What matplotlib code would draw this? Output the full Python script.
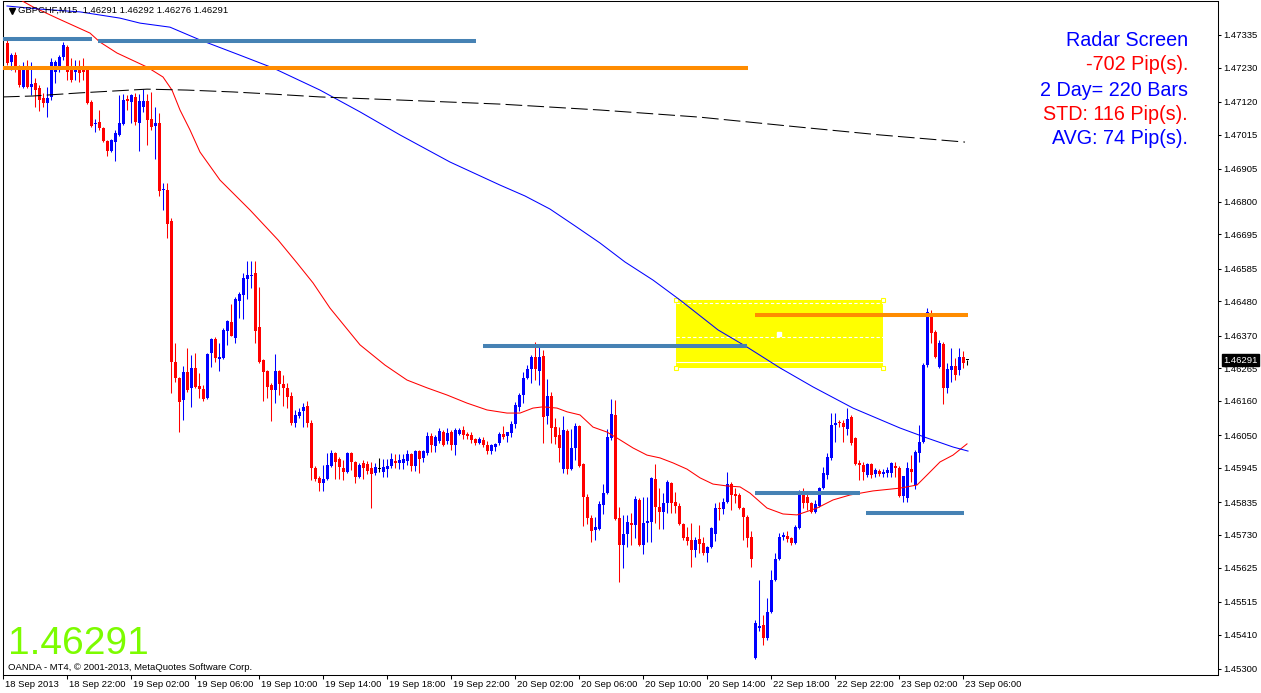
"""
GBPCHF M15 chart (MT4 style) - candles, three moving averages, drawn levels
and the "Radar Screen" info block.
"""

import numpy as np
import matplotlib.pyplot as plt
from matplotlib.patches import Rectangle
import matplotlib.transforms as mtransforms

plt.rcParams['font.family'] = ['Liberation Sans', 'DejaVu Sans']

# 1. OHLC data, one value per M15 bar (bar 0 = first bar on screen)
opens = [
    1.47309, 1.47248, 1.47270, 1.47229, 1.47168, 1.47229, 1.47168, 1.47181, 1.47164, 1.47132,
    1.47116, 1.47136, 1.47216, 1.47232, 1.47264, 1.47296, 1.47229, 1.47216, 1.47229, 1.47222,
    1.47229, 1.47120, 1.47049, 1.47055, 1.47036, 1.46994, 1.46962, 1.46991, 1.47014, 1.47049,
    1.47129, 1.47120, 1.47136, 1.47052, 1.47104, 1.47123, 1.47065, 1.47042, 1.47052, 1.46837,
    1.46837, 1.46738, 1.46285, 1.46234, 1.46163, 1.46253, 1.46202, 1.46266, 1.46208, 1.46198,
    1.46169, 1.46314, 1.46359, 1.46295, 1.46298, 1.46385, 1.46413, 1.46362, 1.46481, 1.46500,
    1.46551, 1.46561, 1.46571, 1.46397, 1.46291, 1.46256, 1.46211, 1.46195, 1.46256, 1.46214,
    1.46202, 1.46176, 1.46089, 1.46112, 1.46128, 1.46144, 1.46089, 1.45945, 1.45913, 1.45897,
    1.45909, 1.45951, 1.45993, 1.45974, 1.45945, 1.45932, 1.45993, 1.45964, 1.45916, 1.45961,
    1.45958, 1.45945, 1.45929, 1.45942, 1.45932, 1.45942, 1.45951, 1.45967, 1.45961, 1.45961,
    1.45967, 1.45990, 1.45951, 1.45999, 1.45977, 1.45993, 1.46047, 1.46015, 1.46031, 1.46060,
    1.46031, 1.46060, 1.46019, 1.46054, 1.46067, 1.46054, 1.46051, 1.46038, 1.46025, 1.46035,
    1.46019, 1.45999, 1.46012, 1.46025, 1.46054, 1.46047, 1.46057, 1.46086, 1.46141, 1.46179,
    1.46234, 1.46263, 1.46301, 1.46256, 1.46304, 1.46112, 1.46176, 1.46076, 1.46051, 1.45942,
    1.46064, 1.45942, 1.46009, 1.46080, 1.45958, 1.45852, 1.45784, 1.45746, 1.45749, 1.45826,
    1.45865, 1.46041, 1.46115, 1.45784, 1.45698, 1.45733, 1.45768, 1.45762, 1.45842, 1.45698,
    1.45768, 1.45771, 1.45909, 1.45820, 1.45803, 1.45832, 1.45897, 1.45836, 1.45823, 1.45765,
    1.45723, 1.45714, 1.45682, 1.45717, 1.45704, 1.45672, 1.45691, 1.45733, 1.45816, 1.45813,
    1.45836, 1.45893, 1.45861, 1.45858, 1.45816, 1.45787, 1.45723, 1.45335, 1.45431, 1.45441,
    1.45399, 1.45482, 1.45585, 1.45653, 1.45723, 1.45726, 1.45720, 1.45704, 1.45752, 1.45868,
    1.45852, 1.45832, 1.45803, 1.45823, 1.45880, 1.45922, 1.45977, 1.46083, 1.46092, 1.46089,
    1.46070, 1.46108, 1.46041, 1.45961, 1.45954, 1.45922, 1.45958, 1.45926, 1.45935, 1.45926,
    1.45929, 1.45929, 1.45951, 1.45945, 1.45855, 1.45849, 1.45942, 1.45890, 1.45993, 1.46028,
    1.46275, 1.46442, 1.46381, 1.46269, 1.46343, 1.46202, 1.46259, 1.46272, 1.46259, 1.46301,
    1.46291,
]
highs = [
    1.47322, 1.47277, 1.47280, 1.47238, 1.47248, 1.47254, 1.47248, 1.47197, 1.47174, 1.47148,
    1.47168, 1.47261, 1.47254, 1.47270, 1.47312, 1.47303, 1.47261, 1.47254, 1.47254, 1.47261,
    1.47235, 1.47126, 1.47065, 1.47094, 1.47039, 1.46998, 1.47001, 1.47030, 1.47142, 1.47145,
    1.47142, 1.47145, 1.47148, 1.47145, 1.47161, 1.47145, 1.47152, 1.47104, 1.47084, 1.46860,
    1.46860, 1.46747, 1.46346, 1.46237, 1.46272, 1.46330, 1.46307, 1.46314, 1.46250, 1.46211,
    1.46314, 1.46362, 1.46365, 1.46346, 1.46394, 1.46420, 1.46471, 1.46494, 1.46510, 1.46571,
    1.46609, 1.46609, 1.46609, 1.46526, 1.46295, 1.46259, 1.46218, 1.46311, 1.46259, 1.46243,
    1.46218, 1.46189, 1.46131, 1.46137, 1.46153, 1.46160, 1.46099, 1.45951, 1.45919, 1.45954,
    1.45993, 1.46003, 1.45996, 1.45980, 1.45970, 1.45996, 1.45996, 1.45967, 1.45961, 1.45970,
    1.45967, 1.45964, 1.45961, 1.45977, 1.45974, 1.45974, 1.45993, 1.45990, 1.45990, 1.45990,
    1.46003, 1.45993, 1.46003, 1.46003, 1.46003, 1.46060, 1.46057, 1.46051, 1.46073, 1.46067,
    1.46073, 1.46067, 1.46073, 1.46073, 1.46080, 1.46060, 1.46060, 1.46041, 1.46044, 1.46044,
    1.46031, 1.46022, 1.46025, 1.46060, 1.46080, 1.46060, 1.46096, 1.46157, 1.46186, 1.46253,
    1.46275, 1.46307, 1.46349, 1.46336, 1.46324, 1.46230, 1.46189, 1.46105, 1.46076, 1.46112,
    1.46070, 1.46070, 1.46089, 1.46083, 1.45961, 1.45861, 1.45794, 1.45787, 1.45839, 1.45893,
    1.46070, 1.46166, 1.46163, 1.45820, 1.45794, 1.45794, 1.45800, 1.45855, 1.45848, 1.45852,
    1.45852, 1.45916, 1.45958, 1.45880, 1.45865, 1.45906, 1.45900, 1.45868, 1.45832, 1.45768,
    1.45755, 1.45768, 1.45723, 1.45762, 1.45723, 1.45694, 1.45755, 1.45832, 1.45836, 1.45848,
    1.45932, 1.45900, 1.45880, 1.45865, 1.45820, 1.45794, 1.45743, 1.45457, 1.45585, 1.45473,
    1.45527, 1.45617, 1.45672, 1.45736, 1.45739, 1.45743, 1.45723, 1.45762, 1.45874, 1.45880,
    1.45865, 1.45836, 1.45842, 1.45884, 1.45948, 1.45993, 1.46121, 1.46121, 1.46099, 1.46099,
    1.46137, 1.46115, 1.46044, 1.45970, 1.45964, 1.45961, 1.45961, 1.45945, 1.45942, 1.45942,
    1.45948, 1.45964, 1.45964, 1.45951, 1.45919, 1.45964, 1.45986, 1.46003, 1.46083, 1.46282,
    1.46458, 1.46452, 1.46388, 1.46356, 1.46349, 1.46282, 1.46330, 1.46298, 1.46330, 1.46320,
    1.46292,
]
lows = [
    1.47238, 1.47222, 1.47216, 1.47168, 1.47164, 1.47164, 1.47142, 1.47104, 1.47091, 1.47104,
    1.47071, 1.47126, 1.47181, 1.47216, 1.47254, 1.47190, 1.47184, 1.47190, 1.47184, 1.47190,
    1.47113, 1.47039, 1.47023, 1.47030, 1.46991, 1.46946, 1.46959, 1.46930, 1.47010, 1.47046,
    1.47094, 1.47052, 1.47046, 1.46962, 1.47087, 1.46982, 1.47030, 1.46937, 1.46818, 1.46773,
    1.46683, 1.46186, 1.46221, 1.46060, 1.46099, 1.46189, 1.46141, 1.46202, 1.46169, 1.46160,
    1.46166, 1.46269, 1.46285, 1.46256, 1.46295, 1.46340, 1.46368, 1.46346, 1.46426, 1.46423,
    1.46487, 1.46522, 1.46346, 1.46282, 1.46160, 1.46169, 1.46096, 1.46153, 1.46179, 1.46144,
    1.46137, 1.46083, 1.46076, 1.46105, 1.46076, 1.46076, 1.45906, 1.45903, 1.45871, 1.45871,
    1.45906, 1.45948, 1.45909, 1.45909, 1.45906, 1.45929, 1.45938, 1.45897, 1.45913, 1.45909,
    1.45926, 1.45816, 1.45922, 1.45932, 1.45916, 1.45916, 1.45945, 1.45945, 1.45942, 1.45942,
    1.45954, 1.45935, 1.45935, 1.45929, 1.45964, 1.45986, 1.45996, 1.45996, 1.46025, 1.46015,
    1.46022, 1.46003, 1.45986, 1.46051, 1.46038, 1.46038, 1.46025, 1.46019, 1.46022, 1.46012,
    1.45990, 1.45990, 1.45999, 1.46019, 1.46038, 1.46028, 1.46044, 1.46073, 1.46128, 1.46153,
    1.46230, 1.46218, 1.46227, 1.46211, 1.46025, 1.46086, 1.46025, 1.46022, 1.45964, 1.45929,
    1.45926, 1.45938, 1.45970, 1.45948, 1.45759, 1.45765, 1.45707, 1.45714, 1.45746, 1.45797,
    1.45861, 1.46035, 1.45778, 1.45579, 1.45624, 1.45691, 1.45698, 1.45720, 1.45694, 1.45669,
    1.45707, 1.45707, 1.45768, 1.45749, 1.45749, 1.45800, 1.45800, 1.45800, 1.45762, 1.45714,
    1.45698, 1.45627, 1.45659, 1.45672, 1.45665, 1.45643, 1.45688, 1.45710, 1.45778, 1.45797,
    1.45832, 1.45810, 1.45832, 1.45813, 1.45714, 1.45691, 1.45627, 1.45332, 1.45422, 1.45376,
    1.45393, 1.45479, 1.45582, 1.45649, 1.45714, 1.45707, 1.45698, 1.45701, 1.45749, 1.45816,
    1.45810, 1.45800, 1.45800, 1.45820, 1.45877, 1.45909, 1.45970, 1.46028, 1.46076, 1.46028,
    1.46051, 1.46019, 1.45954, 1.45906, 1.45906, 1.45916, 1.45913, 1.45916, 1.45919, 1.45916,
    1.45916, 1.45916, 1.45916, 1.45852, 1.45836, 1.45836, 1.45900, 1.45877, 1.45964, 1.46025,
    1.46269, 1.46346, 1.46298, 1.46266, 1.46150, 1.46186, 1.46221, 1.46227, 1.46243, 1.46266,
    1.46276,
]
closes = [
    1.47245, 1.47270, 1.47232, 1.47174, 1.47222, 1.47168, 1.47177, 1.47158, 1.47126, 1.47116,
    1.47132, 1.47248, 1.47248, 1.47264, 1.47303, 1.47216, 1.47190, 1.47222, 1.47213, 1.47216,
    1.47116, 1.47042, 1.47052, 1.47036, 1.46994, 1.46962, 1.46998, 1.47020, 1.47052, 1.47126,
    1.47123, 1.47142, 1.47055, 1.47123, 1.47123, 1.47062, 1.47039, 1.47052, 1.46834, 1.46840,
    1.46728, 1.46285, 1.46234, 1.46157, 1.46253, 1.46195, 1.46266, 1.46205, 1.46198, 1.46166,
    1.46311, 1.46359, 1.46298, 1.46301, 1.46388, 1.46417, 1.46368, 1.46487, 1.46503, 1.46555,
    1.46564, 1.46564, 1.46385, 1.46285, 1.46253, 1.46205, 1.46195, 1.46256, 1.46214, 1.46202,
    1.46173, 1.46089, 1.46115, 1.46125, 1.46141, 1.46089, 1.45945, 1.45909, 1.45897, 1.45909,
    1.45954, 1.45993, 1.45964, 1.45948, 1.45932, 1.45993, 1.45964, 1.45916, 1.45954, 1.45945,
    1.45935, 1.45926, 1.45948, 1.45942, 1.45948, 1.45951, 1.45974, 1.45961, 1.45970, 1.45974,
    1.45990, 1.45951, 1.45999, 1.45974, 1.45999, 1.46047, 1.46019, 1.46044, 1.46064, 1.46019,
    1.46057, 1.46019, 1.46067, 1.46067, 1.46051, 1.46047, 1.46035, 1.46025, 1.46038, 1.46019,
    1.45999, 1.46019, 1.46022, 1.46054, 1.46044, 1.46060, 1.46086, 1.46147, 1.46179, 1.46234,
    1.46263, 1.46301, 1.46263, 1.46301, 1.46108, 1.46176, 1.46073, 1.46044, 1.46009, 1.46067,
    1.45942, 1.46009, 1.46080, 1.45951, 1.45852, 1.45784, 1.45743, 1.45755, 1.45829, 1.45865,
    1.46044, 1.46118, 1.45781, 1.45698, 1.45733, 1.45771, 1.45762, 1.45845, 1.45698, 1.45768,
    1.45775, 1.45913, 1.45820, 1.45803, 1.45832, 1.45900, 1.45832, 1.45823, 1.45765, 1.45720,
    1.45710, 1.45682, 1.45714, 1.45701, 1.45672, 1.45691, 1.45752, 1.45816, 1.45813, 1.45836,
    1.45893, 1.45858, 1.45855, 1.45816, 1.45787, 1.45720, 1.45653, 1.45447, 1.45438, 1.45399,
    1.45482, 1.45585, 1.45653, 1.45723, 1.45730, 1.45717, 1.45704, 1.45755, 1.45868, 1.45832,
    1.45832, 1.45803, 1.45829, 1.45880, 1.45929, 1.45980, 1.46083, 1.46089, 1.46089, 1.46076,
    1.46102, 1.46025, 1.45958, 1.45954, 1.45932, 1.45958, 1.45922, 1.45938, 1.45926, 1.45932,
    1.45938, 1.45961, 1.45945, 1.45855, 1.45919, 1.45945, 1.45932, 1.45996, 1.46028, 1.46275,
    1.46446, 1.46378, 1.46301, 1.46346, 1.46202, 1.46263, 1.46272, 1.46243, 1.46301, 1.46282,
    1.46291,
]

# 2. Moving averages (read at sample bars)
red_ma_bar = [2, 6.5, 12.5, 20.75, 23.25, 27.5, 35, 39, 41.25, 43.25, 45.75, 48.25,
              53.25, 60.75, 67.75, 72.5, 76.5, 80.75, 88.25, 94.5, 100, 105, 110, 115,
              120, 125, 128.25, 131.5, 134, 137.5, 140, 143.25, 146.5, 150, 153.25,
              156.5, 160, 163.25, 166.5, 170, 173.25, 176.5, 180, 183.25, 185.75, 190,
              194, 197.5, 202.5, 206.5, 210.75, 216.5, 223.25, 227.5, 230, 233.25,
              236.5, 240]
red_ma_val = [1.47457, 1.47425, 1.47389, 1.47341, 1.47312, 1.47277, 1.47232, 1.47200,
              1.47158, 1.47094, 1.47030, 1.46959, 1.46869, 1.46773, 1.46677, 1.46603,
              1.46539, 1.46458, 1.46340, 1.46275, 1.46227, 1.46202, 1.46179, 1.46153,
              1.46131, 1.46121, 1.46121, 1.46137, 1.46141, 1.46137, 1.46125, 1.46115,
              1.46076, 1.46060, 1.46035, 1.46009, 1.45986, 1.45977, 1.45961, 1.45941,
              1.45913, 1.45893, 1.45887, 1.45884, 1.45864, 1.45816, 1.45797, 1.45794,
              1.45816, 1.45842, 1.45858, 1.45871, 1.45880, 1.45890, 1.45922, 1.45964,
              1.45986, 1.46022]

blue_ma_bar = [0, 8.25, 18.25, 28.25, 33.25, 40.75, 48.25, 58.25, 66.5, 78.25, 88.25,
               98.25, 110.75, 123.25, 129.5, 135.75, 142, 148.25, 154.5, 161.5, 168.25,
               177.75, 185, 193.25, 201.5, 211.5, 223.25, 230, 236.5, 240.25]
blue_ma_val = [1.47428, 1.47418, 1.47409, 1.47389, 1.47373, 1.47360, 1.47319, 1.47270,
               1.47229, 1.47158, 1.47088, 1.47014, 1.46927, 1.46853, 1.46818, 1.46776,
               1.46722, 1.46667, 1.46606, 1.46548, 1.46484, 1.46388, 1.46333, 1.46266,
               1.46205, 1.46137, 1.46073, 1.46041, 1.46012, 1.45999]

black_ma_bar = [-1, 6.5, 18.25, 35, 45, 56.5, 66.5, 78.25, 98.25, 123.25, 148.25,
                173.25, 198.25, 218.25, 239.5]
black_ma_val = [1.47136, 1.47139, 1.47149, 1.47161, 1.47158, 1.47152, 1.47145, 1.47136,
                1.47126, 1.47113, 1.47094, 1.47071, 1.47039, 1.47014, 1.46991]

# 3. Drawn horizontal levels: price, first bar, last bar, colour
level_price = [1.47323, 1.47315, 1.47229, 1.46336, 1.46436, 1.45865, 1.45800]
level_start = [-1, 22.75, -1, 119, 187, 187, 214.75]
level_end = [21.25, 117.25, 185.25, 185, 240.25, 213.25, 239.25]
level_color = ['#4682B4', '#4682B4', '#FF8C00', '#4682B4', '#FF8C00', '#4682B4', '#4682B4']

# 4. Yellow rectangle object
rect_bars = [167.25, 219.0]
rect_prices = [1.46266, 1.46484]
rect_dashed = [1.46475, 1.46365]
rect_solid = 1.46285
rect_center = (193, 1.46375)

# 5. Axis labels
y_ticks = [1.47335, 1.47230, 1.47120, 1.47015, 1.46905, 1.46800, 1.46695, 1.46585,
           1.46480, 1.46370, 1.46265, 1.46160, 1.46050, 1.45945, 1.45835, 1.45730,
           1.45625, 1.45515, 1.45410, 1.45300]
date_labels = ['18 Sep 2013', '18 Sep 22:00', '19 Sep 02:00', '19 Sep 06:00',
               '19 Sep 10:00', '19 Sep 14:00', '19 Sep 18:00', '19 Sep 22:00',
               '20 Sep 02:00', '20 Sep 06:00', '20 Sep 10:00', '20 Sep 14:00',
               '22 Sep 18:00', '22 Sep 22:00', '23 Sep 02:00', '23 Sep 06:00']
date_bars = [16 * k - 1 for k in range(len(date_labels))]

radar_lines = ['Radar Screen', '-702 Pip(s).', '2 Day= 220 Bars',
               'STD: 116 Pip(s).', 'AVG: 74 Pip(s).']
radar_colors = ['#0000FF', '#FF0000', '#0000FF', '#FF0000', '#0000FF']

last_price = 1.46291
title_text = 'GBPCHF,M15  1.46291 1.46292 1.46276 1.46291'

# ---------------------------------------------------------------------------
W, H = 1261, 693
fig = plt.figure(figsize=(W / 100, H / 100), dpi=100)
fig.patch.set_facecolor('white')
ax = fig.add_axes([3 / W, 18 / H, 1215 / W, 674 / H])
ax.set_xlim(-1, 302.75)
ax.set_ylim(1.45280, 1.47444)

# yellow rectangle (background object)
x0, x1 = rect_bars
y0, y1 = rect_prices
ax.add_patch(Rectangle((x0, y0), x1 - x0, y1 - y0, facecolor='#FFFF00',
                       edgecolor='none', zorder=1))
ax.hlines(rect_dashed, x0, x1, colors='white', linestyles=(0, (3, 2)),
          linewidth=0.8, zorder=1.5)
ax.hlines([rect_solid], x0, x1, colors='white', linewidth=0.8, zorder=1.5)
ax.plot([x0, x1, x0, x1], [y0, y0, y1, y1], linestyle='none', marker='s',
        markersize=3.5, markerfacecolor='white', markeredgecolor='#FFFF00',
        markeredgewidth=0.8, zorder=1.6)
ax.plot([rect_center[0]], [rect_center[1]], linestyle='none', marker='s',
        markersize=2.5, color='white', zorder=1.6)

# candles
o = np.array(opens)
hi = np.array(highs)
lo = np.array(lows)
c = np.array(closes)
bars = np.arange(len(o))
colors = np.where(c > o, '#0000FF', np.where(c < o, '#FF0000', '#000000'))
ax.vlines(bars, lo, hi, colors=colors, linewidth=0.75, zorder=4)
body_bottom = np.minimum(o, c)
body_height = np.maximum(np.abs(c - o), 0.00002)
ax.bar(bars, body_height, bottom=body_bottom, width=0.75, color=colors,
       linewidth=0, zorder=5)

# moving averages
ax.plot(red_ma_bar, red_ma_val, color='#FF0000', linewidth=0.75, zorder=6)
ax.plot(blue_ma_bar, blue_ma_val, color='#0000FF', linewidth=0.75, zorder=6)
ax.plot(black_ma_bar, black_ma_val, color='black', linewidth=0.75,
        linestyle=(0, (16, 5)), zorder=6)

# drawn levels
for price, start, end, col in zip(level_price, level_start, level_end, level_color):
    ax.hlines(price, start, end, colors=col, linewidth=2.9, zorder=7)

# axes styling
for sp in ax.spines.values():
    sp.set_color('black')
    sp.set_linewidth(0.75)

ax.yaxis.tick_right()
ax.set_yticks(y_ticks)
ax.set_yticklabels([f'{v:.5f}' for v in y_ticks])
ax.tick_params(axis='y', direction='out', length=2.2, width=0.75, pad=1.8,
               labelsize=6.8, colors='black')

ax.set_xticks(date_bars)
ax.set_xticklabels(date_labels, ha='left')
ax.tick_params(axis='x', direction='out', length=2.9, width=0.75, pad=1.0,
               labelsize=6.8, colors='black')
shift = mtransforms.ScaledTranslation(2 / 100, 0, fig.dpi_scale_trans)
for lbl in ax.get_xticklabels():
    lbl.set_transform(lbl.get_transform() + shift)

# current price marker on the price scale
price_tr = mtransforms.blended_transform_factory(ax.transAxes, ax.transData)
ax.text(1.0 + 5 / 1215, last_price, f'{last_price:.5f}', transform=price_tr,
        ha='left', va='center', fontsize=6.8, color='white', zorder=10,
        bbox=dict(boxstyle='square,pad=0.15', facecolor='black', edgecolor='black'))

# title line
ax.plot([9 / 1215], [1 - 10 / 674], transform=ax.transAxes, marker='v',
        markersize=4, color='black', clip_on=False, zorder=10)
fig.text(18 / W, 1 - 10 / H, title_text, ha='left', va='center',
         fontsize=6.8, color='black', zorder=10)

# radar screen block
for k, (txt, col) in enumerate(zip(radar_lines, radar_colors)):
    y_px = [40, 65, 90, 114, 138][k]
    fig.text(1188 / W, 1 - y_px / H, txt, ha='right', va='center',
             fontsize=14.2, color=col)

# big last price and copyright line
fig.text(8 / W, 1 - 654 / H, f'{last_price:.5f}', ha='left', va='baseline',
         fontsize=28, color='#7CFC00')
fig.text(8 / W, 1 - 668 / H, 'OANDA - MT4, © 2001-2013, MetaQuotes Software Corp.',
         ha='left', va='center', fontsize=6.8, color='black')

fig.savefig('out.png', dpi=100, facecolor='white')
